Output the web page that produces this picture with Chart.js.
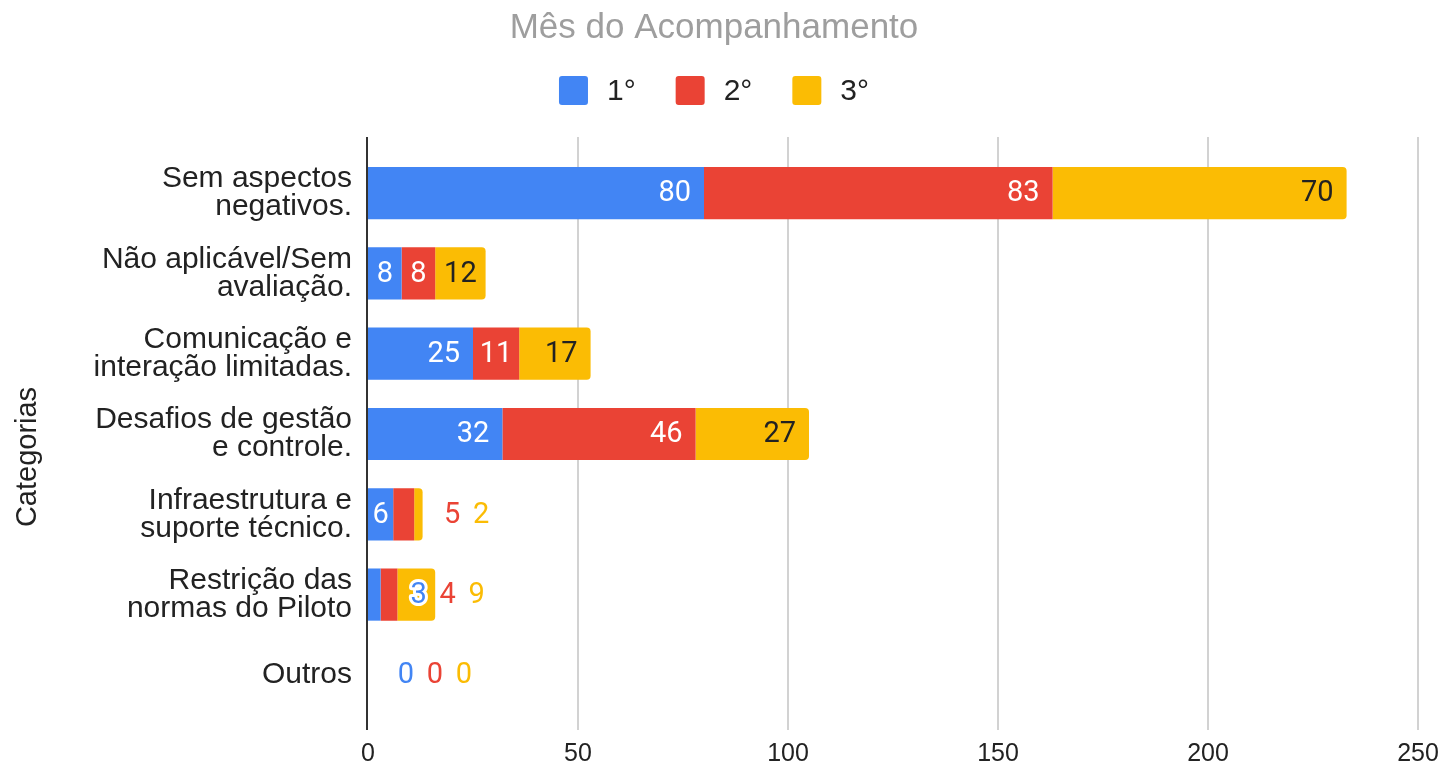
<!DOCTYPE html>
<html>
<head>
<meta charset="utf-8">
<script src="https://cdn.jsdelivr.net/npm/chart.js@4.4.1/dist/chart.umd.min.js"></script>
<style>
  html, body { margin: 0; padding: 0; background: #fff; }
  #wrap { width: 1447px; height: 771px; position: relative; }
</style>
</head>
<body>
<div id="wrap"><canvas id="chart"></canvas></div>
<script>
// data
const categories = [
  ["Sem aspectos", "negativos."],
  ["Não aplicável/Sem", "avaliação."],
  ["Comunicação e", "interação limitadas."],
  ["Desafios de gestão", "e controle."],
  ["Infraestrutura e", "suporte técnico."],
  ["Restrição das", "normas do Piloto"],
  "Outros"
];
const month1 = [80, 8, 25, 32, 6, 3, 0];
const month2 = [83, 8, 11, 46, 5, 4, 0];
const month3 = [70, 12, 17, 27, 2, 9, 0];
const seriesNames = ["1°", "2°", "3°"];
const xTicks = [0, 50, 100, 150, 200, 250];

const chartTitle = "Mês do Acompanhamento";
const yTitle = "Categorias";

const COLORS = ["#4285F4", "#EA4335", "#FBBC04"];
const INSIDE_TEXT = ["#ffffff", "#ffffff", "#222222"];
const SANS = 'Arial, "Liberation Sans", sans-serif';
const CENTER_X = 714;

Chart.defaults.font.family = SANS;
Chart.defaults.color = "#222";

const seriesData = [month1, month2, month3];

// round the right end of the last non-empty segment in each row
function endRadius(c) {
  const i = c.dataIndex;
  for (let d = c.datasetIndex + 1; d < seriesData.length; d++) {
    if (seriesData[d][i] > 0) return 0;
  }
  return { topLeft: 0, bottomLeft: 0, topRight: 4, bottomRight: 4 };
}

const overlay = {
  id: "overlay",
  beforeDatasetsDraw(chart) {
    const { ctx, chartArea, scales: { x } } = chart;
    ctx.save();
    xTicks.forEach(v => {
      const px = Math.round(x.getPixelForValue(v));
      ctx.beginPath();
      ctx.lineWidth = 2;
      ctx.strokeStyle = v === 0 ? "#333333" : "#d2d2d2";
      ctx.moveTo(v === 0 ? px - 1 : px, chartArea.top - 16);
      ctx.lineTo(v === 0 ? px - 1 : px, chartArea.bottom + 15);
      ctx.stroke();
    });
    ctx.restore();
  },
  afterDatasetsDraw(chart) {
    const { ctx } = chart;
    ctx.save();
    ctx.font = "29px Roboto";
    ctx.textAlign = "center";
    ctx.textBaseline = "middle";
    ctx.lineJoin = "round";
    categories.forEach((_, i) => {
      let lastOut = -Infinity;
      let freeFrom = -Infinity;
      chart.data.datasets.forEach((ds, d) => {
        const bar = chart.getDatasetMeta(d).data[i];
        if (!bar) return;
        const txt = String(ds.data[i]);
        const w = ctx.measureText(txt).width;
        const start = Math.min(bar.base, bar.x);
        const end = Math.max(bar.base, bar.x);
        let px = Math.max((start + end) / 2, end - 13 - w / 2);
        const inside = (end - start) >= w + 8 && px - w / 2 >= freeFrom;
        if (!inside) {
          px = Math.max(end + 38, lastOut + 29);
          lastOut = px;
          freeFrom = px + w / 2 + 4;
          ctx.lineWidth = 6;
          ctx.strokeStyle = "#ffffff";
          ctx.strokeText(txt, px, bar.y + 1);
          ctx.fillStyle = COLORS[d];
        } else {
          ctx.fillStyle = INSIDE_TEXT[d];
        }
        ctx.fillText(txt, px, bar.y + 1);
      });
    });
    ctx.restore();
  },
  afterDraw(chart) {
    const { ctx } = chart;
    ctx.save();
    // legend
    ctx.font = "30px " + SANS;
    ctx.textBaseline = "middle";
    ctx.textAlign = "left";
    const box = 29, gapText = 19, gapItem = 40, boxTop = 76;
    const items = chart.data.datasets.map(ds => ({
      label: ds.label, color: ds.backgroundColor, w: ctx.measureText(ds.label).width
    }));
    let total = gapItem * (items.length - 1);
    items.forEach(it => { total += box + gapText + it.w; });
    let lx = CENTER_X - total / 2;
    items.forEach(it => {
      ctx.fillStyle = it.color;
      ctx.beginPath();
      ctx.roundRect(lx, boxTop, box, box, 3);
      ctx.fill();
      ctx.fillStyle = "#222";
      ctx.fillText(it.label, lx + box + gapText, boxTop + box / 2 + 1);
      lx += box + gapText + it.w + gapItem;
    });
    // y axis title
    ctx.translate(28, 457);
    ctx.rotate(-Math.PI / 2);
    ctx.textAlign = "center";
    ctx.font = "29px " + SANS;
    ctx.fillText(yTitle, 0, 0);
    ctx.restore();
  }
};

new Chart(document.getElementById("chart"), {
  type: "bar",
  data: {
    labels: categories,
    datasets: seriesData.map((vals, d) => ({
      label: seriesNames[d],
      data: vals,
      backgroundColor: COLORS[d],
      borderWidth: 0,
      borderRadius: endRadius,
      borderSkipped: false,
      barPercentage: 0.65,
      categoryPercentage: 1
    }))
  },
  options: {
    indexAxis: "y",
    responsive: true,
    maintainAspectRatio: false,
    animation: false,
    layout: { padding: { left: 10, right: 29, top: 0, bottom: 0 } },
    plugins: {
      legend: { display: false },
      tooltip: { enabled: false },
      title: {
        display: true,
        text: chartTitle,
        color: "#9e9e9e",
        font: { size: 35, weight: "normal", family: SANS },
        padding: { top: 7, bottom: 104 }
      }
    },
    scales: {
      x: {
        stacked: true,
        min: 0,
        max: 250,
        afterBuildTicks: s => { s.ticks = xTicks.map(v => ({ value: v })); },
        ticks: { font: { size: 25 }, color: "#222", padding: 24, maxRotation: 0 },
        grid: { display: false, drawTicks: false },
        border: { display: false },
        afterFit: s => { s.height = 56; s.paddingLeft = 0; s.paddingRight = 0; }
      },
      y: {
        stacked: true,
        ticks: { font: { size: 30, lineHeight: "28px" }, color: "#222", padding: 16, autoSkip: false },
        grid: { display: false, drawTicks: false },
        border: { display: false },
        afterFit: s => { s.width = 358; }
      }
    }
  },
  plugins: [overlay]
});
</script>
</body>
</html>
